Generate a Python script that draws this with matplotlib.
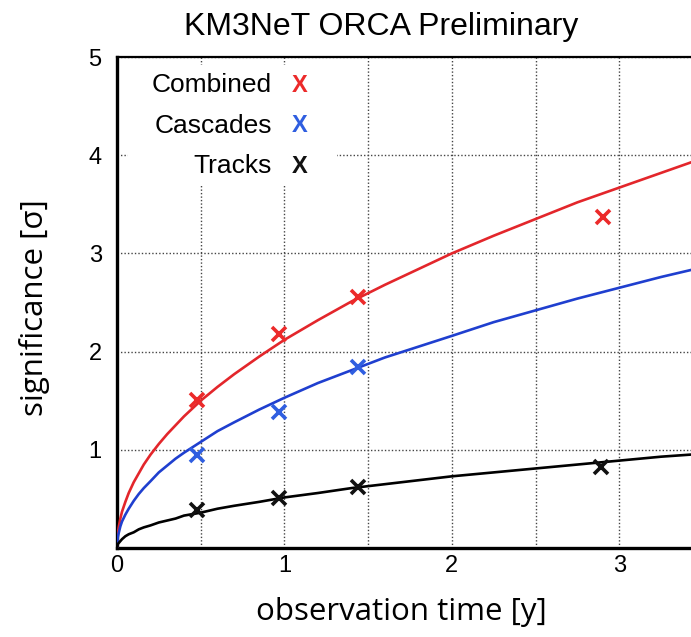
import numpy as np
import matplotlib
matplotlib.use('Agg')
import matplotlib.pyplot as plt
from matplotlib.patches import Rectangle
from matplotlib.ticker import MultipleLocator

'''Fitted curves read off the picture'''
t_curve = [0, 0.005, 0.01, 0.02, 0.03, 0.05, 0.07, 0.1, 0.13, 0.16, 0.2, 0.25,
           0.3, 0.35, 0.4, 0.5, 0.6, 0.7, 0.85, 1.0, 1.2, 1.4, 1.6, 1.8, 2.0,
           2.25, 2.5, 2.75, 3.0, 3.25, 3.5]
comb_curve = [0, 0.15, 0.21, 0.30, 0.37, 0.47, 0.56, 0.67, 0.76, 0.85, 0.95, 1.06,
              1.16, 1.25, 1.34, 1.50, 1.64, 1.77, 1.95, 2.12, 2.32, 2.51, 2.68, 2.84, 3.00,
              3.18, 3.35, 3.52, 3.67, 3.82, 3.97]
casc_curve = [0, 0.11, 0.15, 0.22, 0.27, 0.34, 0.40, 0.48, 0.55, 0.61, 0.68, 0.77,
              0.84, 0.91, 0.97, 1.08, 1.19, 1.28, 1.41, 1.53, 1.68, 1.81, 1.94, 2.05, 2.16,
              2.30, 2.42, 2.54, 2.65, 2.76, 2.86]
trk_curve = [0, 0.04, 0.05, 0.07, 0.09, 0.12, 0.14, 0.16, 0.19, 0.21, 0.23, 0.26,
             0.28, 0.30, 0.33, 0.36, 0.40, 0.43, 0.47, 0.515, 0.56, 0.61, 0.65, 0.69, 0.73,
             0.77, 0.81, 0.85, 0.89, 0.93, 0.96]

'''Measured points'''
comb_t = [0.48, 0.97, 1.44, 2.90]
comb_s = [1.51, 2.18, 2.56, 3.37]
casc_t = [0.48, 0.97, 1.44]
casc_s = [0.95, 1.38, 1.84]
trk_t = [0.48, 0.97, 1.44, 2.89]
trk_s = [0.39, 0.51, 0.62, 0.82]

labels = ['Combined', 'Cascades', 'Tracks']
line_cols = ['#e3262b', '#1f3fcf', '#000000']
mark_cols = ['#ec2a2a', '#2f5ee0', '#111111']

fig = plt.figure(figsize=(6.91, 6.37), dpi=100)
ax = fig.add_axes([0.1693, 0.1397, 0.848, 0.7708])

curves = [comb_curve, casc_curve, trk_curve]
pts = [(comb_t, comb_s), (casc_t, casc_s), (trk_t, trk_s)]
for c, (pt, ps), lc, mc in zip(curves, pts, line_cols, mark_cols):
    ax.plot(t_curve, c, color=lc, lw=1.9, zorder=3)
    ax.plot(pt, ps, ls='none', marker='x', ms=10, mew=2.6, color=mc, zorder=4)

ax.set_xlim(0, 3.5)
ax.set_ylim(0, 5)
ax.xaxis.set_major_locator(MultipleLocator(1))
ax.xaxis.set_minor_locator(MultipleLocator(0.5))
ax.set_yticks([1, 2, 3, 4, 5])
ax.set_axisbelow(True)
ax.grid(True, which='both', axis='x', ls=(0, (1, 1.5)), color='#444444', lw=1.0)
ax.grid(True, which='major', axis='y', ls=(0, (1, 1.5)), color='#444444', lw=1.0)
ax.tick_params(which='both', length=0)
ax.tick_params(axis='x', labelsize=17, pad=5)
ax.tick_params(axis='y', labelsize=17, pad=11)
for lab in ax.get_xticklabels() + ax.get_yticklabels():
    lab.set_family('Liberation Sans')

for side in ['left', 'bottom']:
    ax.spines[side].set_linewidth(2.4)
ax.spines['top'].set_linewidth(1.6)

'''Legend box'''
ax.add_patch(Rectangle((0.066, 3.70), 1.25, 1.22, facecolor='white',
                       edgecolor='none', zorder=1))
leg_y = [4.71, 4.30, 3.89]
for lab, y, mc in zip(labels, leg_y, mark_cols):
    ax.text(0.925, y, lab, ha='right', va='center', fontsize=19,
            family='Liberation Sans', zorder=5)
    ax.text(1.09, y, 'X', ha='center', va='center', fontsize=17,
            fontweight='bold', family='Liberation Sans', color=mc, zorder=5)

ax.set_xlabel('observation time [y]', fontsize=22.5, family='Open Sans')
ax.xaxis.set_label_coords(0.485, -0.100)
ax.set_ylabel('significance [σ]', fontsize=22.5, family='Open Sans')
ax.yaxis.set_label_coords(-0.115, 0.489)

fig.text(0.551, 0.957, 'KM3NeT ORCA Preliminary', ha='center', va='center',
         fontsize=23, family='Liberation Sans')

fig.savefig('out.png', dpi=100)
